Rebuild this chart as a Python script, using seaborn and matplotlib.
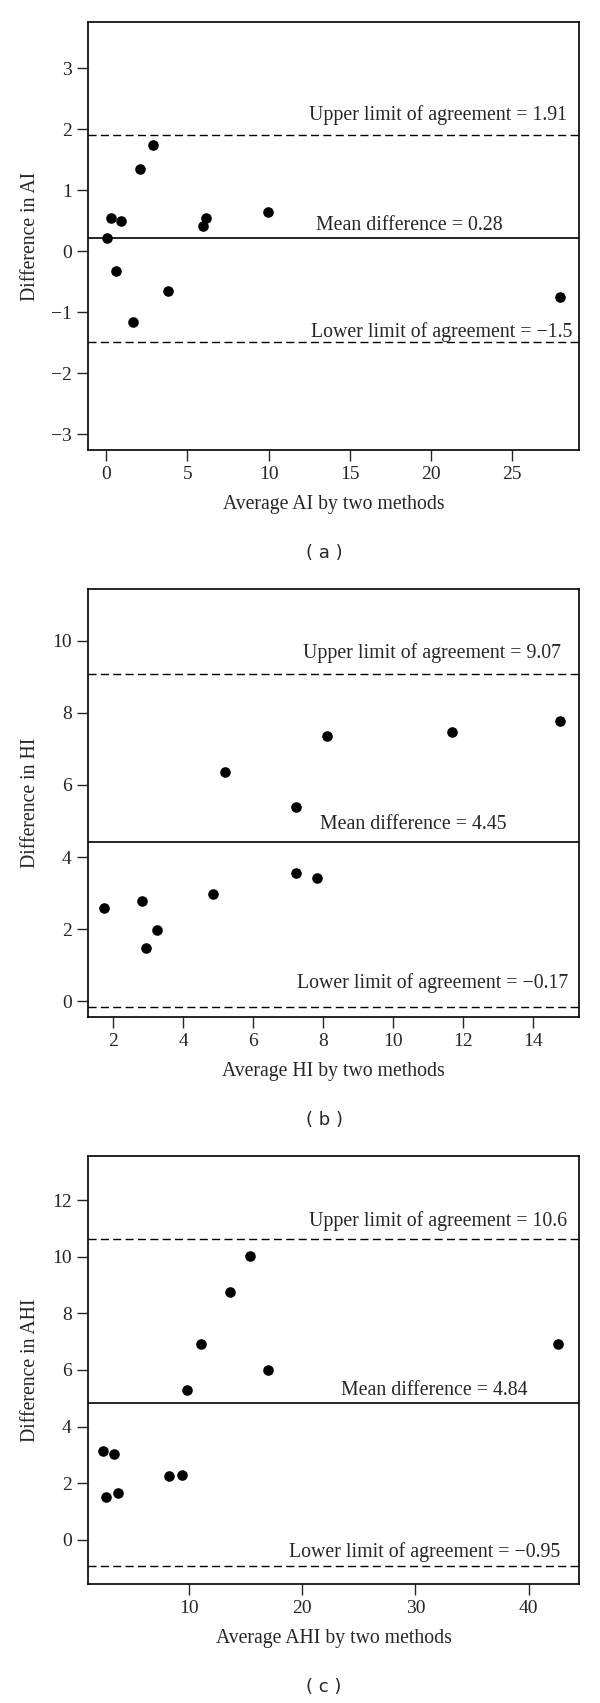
import numpy as np
import pandas as pd
import seaborn as sns
import matplotlib
matplotlib.use("Agg")
from matplotlib import pyplot as plt

# Bland-Altman podaci ocitani sa slike
ai_avg = [0.07, 0.28, 0.94, 0.59, 2.09, 2.86, 3.78, 1.67, 5.94, 6.17, 9.98, 27.98]
ai_diff = [0.22, 0.55, 0.49, -0.33, 1.35, 1.75, -0.65, -1.16, 0.42, 0.54, 0.65, -0.75]
ai_lines = [1.91, 0.21, -1.49]          # upper, mean, lower (polozaj linija)
ai_labels = ["Upper limit of agreement = 1.91", "Mean difference = 0.28",
             "Lower limit of agreement = \u22121.5"]

hi_avg = [5.21, 8.10, 11.68, 14.79, 7.24, 7.24, 7.83, 4.86, 1.75, 2.83, 3.25, 2.93]
hi_diff = [6.36, 7.37, 7.46, 7.77, 5.39, 3.57, 3.42, 2.97, 2.58, 2.78, 1.98, 1.48]
hi_lines = [9.07, 4.43, -0.15]
hi_labels = ["Upper limit of agreement = 9.07", "Mean difference = 4.45",
             "Lower limit of agreement = \u22120.17"]

ahi_avg = [15.38, 13.69, 11.12, 17.0, 9.83, 42.55, 2.49, 3.43, 2.69, 3.77, 8.31, 9.46]
ahi_diff = [10.01, 8.74, 6.91, 6.01, 5.29, 6.93, 3.15, 3.04, 1.51, 1.65, 2.24, 2.28]
ahi_lines = [10.64, 4.84, -0.94]
ahi_labels = ["Upper limit of agreement = 10.6", "Mean difference = 4.84",
              "Lower limit of agreement = \u22120.95"]

sns.set_style("white")
plt.rcParams['font.family'] = ['Liberation Serif', 'DejaVu Serif']

fig = plt.figure(figsize=(6, 17.03), dpi=100)

panels = [
    dict(x=ai_avg, y=ai_diff, lines=ai_lines, labels=ai_labels,
         xlabel="Average AI by two methods", ylabel="Difference in AI",
         xlim=(-1.12, 29.12), ylim=(-3.26, 3.76),
         xticks=np.arange(0, 30, 5), yticks=np.arange(-3, 4, 1),
         text_pos=[(28.4, 2.24), (18.66, 0.43), (28.7, -1.32)],
         bottom=1 - 450 / 1703, tag="( a )", tag_y=1 - 553 / 1703),
    dict(x=hi_avg, y=hi_diff, lines=hi_lines, labels=hi_labels,
         xlabel="Average HI by two methods", ylabel="Difference in HI",
         xlim=(1.28, 15.32), ylim=(-0.44, 11.44),
         xticks=np.arange(2, 15, 2), yticks=np.arange(0, 11, 2),
         text_pos=[(14.8, 9.67), (10.57, 4.91), (15.0, 0.49)],
         bottom=1 - 1017 / 1703, tag="( b )", tag_y=1 - 1120 / 1703),
    dict(x=ahi_avg, y=ahi_diff, lines=ahi_lines, labels=ahi_labels,
         xlabel="Average AHI by two methods", ylabel="Difference in AHI",
         xlim=(1.13, 44.42), ylim=(-1.56, 13.56),
         xticks=np.arange(10, 41, 10), yticks=np.arange(0, 13, 2),
         text_pos=[(43.4, 11.27), (31.7, 5.29), (42.76, -0.44)],
         bottom=1 - 1584 / 1703, tag="( c )", tag_y=1 - 1687 / 1703),
]

for p in panels:
    ax = fig.add_axes([88 / 600, p["bottom"], 491 / 600, 428 / 1703])
    df = pd.DataFrame({"avg": p["x"], "diff": p["y"]})
    sns.scatterplot(data=df, x="avg", y="diff", ax=ax, color="black",
                    s=58, edgecolor="black", linewidth=0)

    # granice slaganja i srednja razlika
    ax.axhline(p["lines"][0], color="black", lw=1.0, ls=(0, (5.8, 3.1)))
    ax.axhline(p["lines"][1], color="black", lw=1.2)
    ax.axhline(p["lines"][2], color="black", lw=1.0, ls=(0, (5.8, 3.1)))

    (ux, uy), (mx, my), (lx, ly) = p["text_pos"]
    ax.text(ux, uy, p["labels"][0], ha="right", va="center", fontsize=14.3)
    ax.text(mx, my, p["labels"][1], ha="center", va="center", fontsize=14.3)
    ax.text(lx, ly, p["labels"][2], ha="right", va="center", fontsize=14.3)

    ax.set_xlim(p["xlim"])
    ax.set_ylim(p["ylim"])
    ax.set_xticks(p["xticks"])
    ax.set_yticks(p["yticks"])
    ax.set_xlabel(p["xlabel"], fontsize=14.2)
    ax.set_ylabel(p["ylabel"], fontsize=14.2, va="center")
    ax.xaxis.set_label_coords(0.5, -0.105)
    ax.yaxis.set_label_coords(-0.118, 0.5)
    ax.tick_params(direction="out", length=7.8, width=1, labelsize=14, pad=4,
                   bottom=True, left=True)
    for s in ax.spines.values():
        s.set_visible(True)
        s.set_linewidth(1.2)
        s.set_color("black")

    fig.text(0.54, p["tag_y"], p["tag"], ha="center", va="center",
             fontsize=13, family="DejaVu Sans")

fig.savefig("out.png", dpi=100)
